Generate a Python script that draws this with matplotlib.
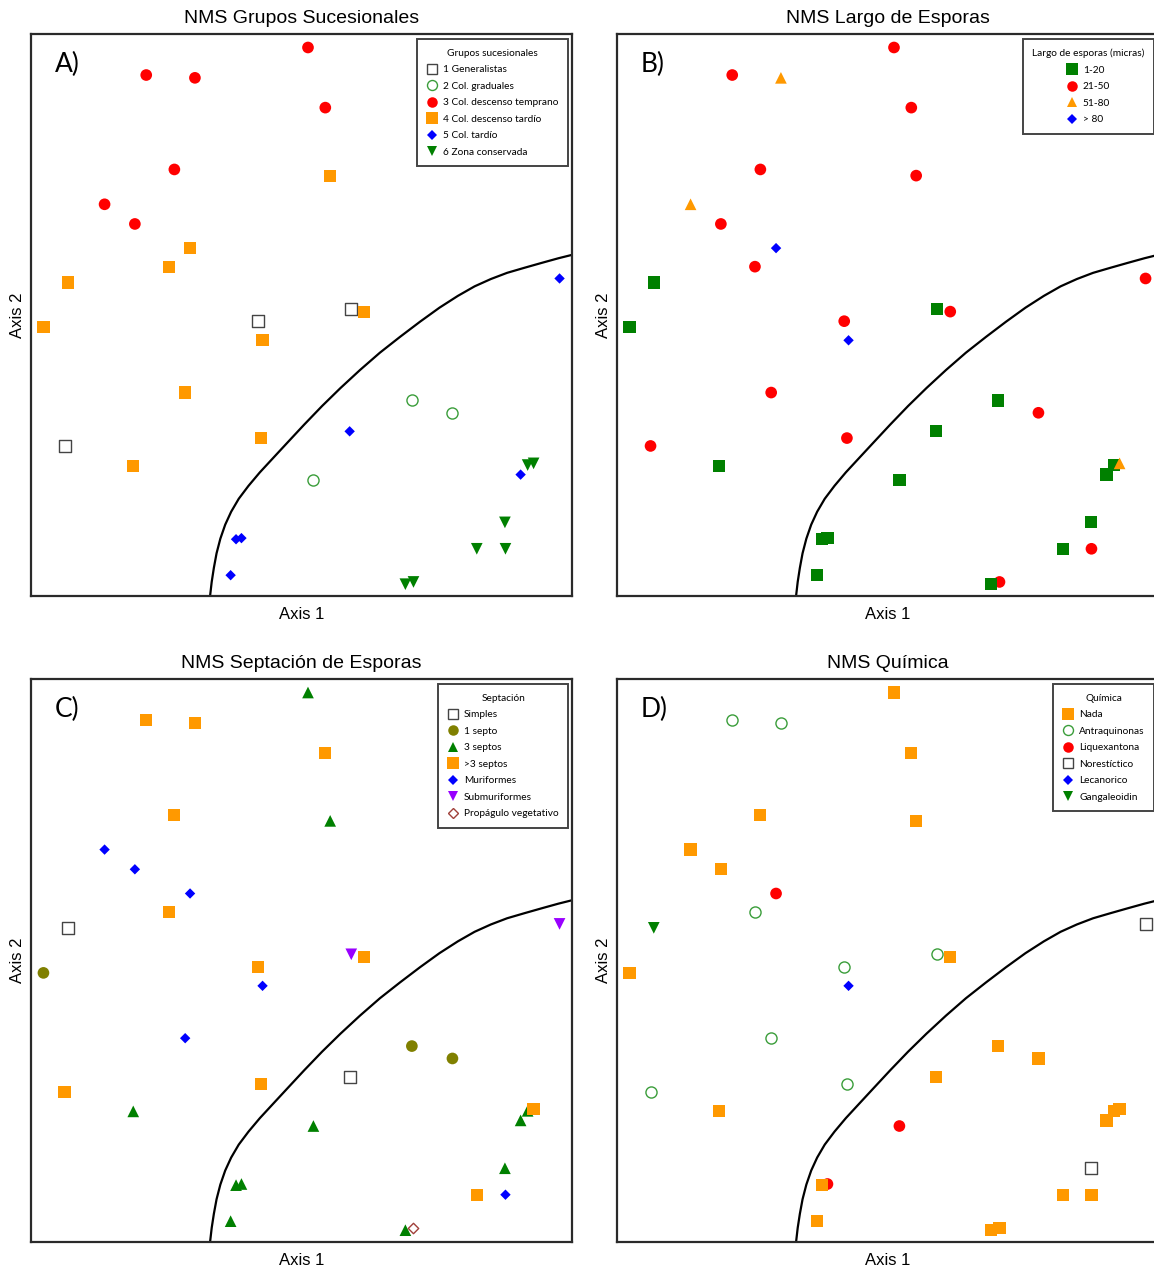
import matplotlib
matplotlib.use("Agg")
import matplotlib.pyplot as plt
from matplotlib.lines import Line2D
import numpy as np

# NMS scores of the 36 samples (same ordination in all four panels)
AXIS1 = [51.2, 21.3, 30.3, 54.4, 26.5, 13.6, 19.2, 55.3, 29.4, 25.5,
         6.8, 2.3, 61.6, 42.8, 28.5, 42.5, 18.9, 42.0, 59.2, 6.2,
         70.4, 77.9, 52.2, 97.7, 58.9, 90.5, 37.9, 38.9, 36.9, 91.8,
         92.9, 87.6, 82.4, 87.7, 69.2, 70.7]
AXIS2 = [97.6, 92.7, 92.2, 86.9, 75.9, 69.7, 66.2, 74.8, 61.9, 58.6,
         55.8, 47.8, 50.6, 45.5, 36.2, 28.1, 23.2, 48.9, 51.1, 26.7,
         34.8, 32.6, 20.6, 56.5, 29.3, 21.6, 10.1, 10.3, 3.7, 23.3,
         23.6, 13.1, 8.4, 8.4, 2.1, 2.5]

# grouping variables for each sample
GRUPOS = [3, 3, 3, 3, 3, 3, 3, 4, 4, 4, 4, 4, 4, 4, 4, 4, 4, 1, 1, 1,
          2, 2, 2, 5, 5, 5, 5, 5, 5, 6, 6, 6, 6, 6, 6, 6]
LARGO = ["21-50", "21-50", "51-80", "21-50", "21-50", "51-80", "21-50",
         "21-50", "> 80", "21-50", "1-20", "1-20", "21-50", "> 80",
         "21-50", "21-50", "1-20", "21-50", "1-20", "21-50", "1-20",
         "21-50", "1-20", "21-50", "1-20", "1-20", "1-20", "1-20", "1-20",
         "1-20", "51-80", "1-20", "1-20", "21-50", "1-20", "21-50"]
SEPTACION = ["3", ">3", ">3", ">3", ">3", "M", "M", "3", "M", ">3",
             "S", "1", ">3", "M", "M", ">3", "3", ">3", "Sub", ">3",
             "1", "1", "3", "Sub", "S", "3", "3", "3", "3", "3",
             ">3", "3", ">3", "M", "3", "P"]
QUIMICA = ["Nada", "Antra", "Antra", "Nada", "Nada", "Nada", "Nada",
           "Nada", "Liq", "Antra", "Gang", "Nada", "Nada", "Lec",
           "Antra", "Antra", "Nada", "Antra", "Antra", "Antra", "Nada",
           "Nada", "Liq", "Nor", "Nada", "Nada", "Nada", "Liq", "Nada",
           "Nada", "Nada", "Nor", "Nada", "Nada", "Nada", "Nada"]

# boundary line between the two clusters
CURVE_X = [33.1, 33.4, 33.8, 34.3, 35.0, 35.9, 37.0, 38.4, 40.2, 42.3,
           44.8, 47.5, 50.5, 53.8, 57.2, 60.8, 64.5, 68.2, 71.9, 75.5,
           78.9, 82.0, 85.0, 88.0, 91.2, 94.5, 97.5, 100.0]
CURVE_Y = [0.0, 2.5, 5.0, 7.6, 10.2, 12.7, 15.0, 17.3, 19.6, 22.0,
           24.6, 27.4, 30.5, 33.8, 37.0, 40.2, 43.3, 46.1, 48.8, 51.3,
           53.4, 55.1, 56.4, 57.5, 58.4, 59.3, 60.1, 60.7]

RED, ORANGE, BLUE, GREEN = "#ff0000", "#ff9900", "#0000ff", "#008000"
OPEN_GREEN, GREY = "#3a9d3a", "#444444"


def sty(marker, face, edge="none", ms=8.4, lw=0.0):
    return dict(marker=marker, face=face, edge=edge, ms=ms, lw=lw)


SQ_OPEN = sty("s", "white", GREY, 8.0, 1.0)
CI_OPEN = sty("o", "white", OPEN_GREEN, 8.0, 1.0)

PANELS = [
    dict(title="NMS Grupos Sucesionales", letter="A)", values=GRUPOS,
         legend_title="Grupos sucesionales",
         styles={1: SQ_OPEN, 2: CI_OPEN, 3: sty("o", RED), 4: sty("s", ORANGE, ms=8.8),
                 5: sty("D", BLUE, ms=5.3), 6: sty("v", GREEN)},
         names={1: "1 Generalistas", 2: "2 Col. graduales", 3: "3 Col. descenso temprano",
                4: "4 Col. descenso tardío", 5: "5 Col. tardío", 6: "6 Zona conservada"},
         order=[1, 2, 3, 4, 5, 6]),
    dict(title="NMS Largo de Esporas", letter="B)", values=LARGO,
         legend_title="Largo de esporas (micras)",
         styles={"1-20": sty("s", GREEN, ms=8.8), "21-50": sty("o", RED),
                 "51-80": sty("^", ORANGE), "> 80": sty("D", BLUE, ms=5.3)},
         names={"1-20": "1-20", "21-50": "21-50", "51-80": "51-80", "> 80": "> 80"},
         order=["21-50", "1-20", "51-80", "> 80"]),
    dict(title="NMS Septación de Esporas", letter="C)", values=SEPTACION,
         legend_title="Septación",
         styles={"S": SQ_OPEN, "1": sty("o", "#808000"), "3": sty("^", GREEN),
                 ">3": sty("s", ORANGE, ms=8.8), "M": sty("D", BLUE, ms=5.3),
                 "Sub": sty("v", "#9900ff"), "P": sty("D", "white", "#a0403a", 5.3, 1.0)},
         names={"S": "Simples", "1": "1 septo", "3": "3 septos", ">3": ">3 septos",
                "M": "Muriformes", "Sub": "Submuriformes", "P": "Propágulo vegetativo"},
         order=["S", "1", "3", ">3", "M", "Sub", "P"]),
    dict(title="NMS Química", letter="D)", values=QUIMICA,
         legend_title="Química",
         styles={"Nada": sty("s", ORANGE, ms=8.8), "Antra": CI_OPEN, "Liq": sty("o", RED),
                 "Nor": SQ_OPEN, "Lec": sty("D", BLUE, ms=5.3), "Gang": sty("v", GREEN)},
         names={"Nada": "Nada", "Antra": "Antraquinonas", "Liq": "Liquexantona",
                "Nor": "Norestíctico", "Lec": "Lecanorico", "Gang": "Gangaleoidin"},
         order=["Liq", "Antra", "Nor", "Lec", "Gang", "Nada"]),
]

W, H = 1154, 1268
fig = plt.figure(figsize=(W / 100, H / 100), dpi=100)

# axes frames in pixels: (left, top, right, bottom)
FRAMES = [(31, 34, 572, 596), (617, 34, 1158, 596),
          (31, 679, 572, 1242), (617, 679, 1158, 1242)]

TITLE_FONT = "Liberation Sans"
LEGEND_FONT = "Lato"

x = np.array(AXIS1)
y = np.array(AXIS2)

for p, (l, t, r, b) in zip(PANELS, FRAMES):
    ax = fig.add_axes([l / W, 1 - b / H, (r - l) / W, (b - t) / H])
    vals = np.array(p["values"], dtype=object)
    for key in p["order"]:
        st = p["styles"][key]
        m = vals == key
        ax.scatter(x[m], y[m], marker=st["marker"], s=st["ms"] ** 2,
                   facecolors=st["face"], edgecolors=st["edge"],
                   linewidths=st["lw"], zorder=3)
    ax.plot(CURVE_X, CURVE_Y, color="black", lw=1.6, zorder=2,
            solid_capstyle="butt", solid_joinstyle="round")
    ax.set_xlim(0, 100)
    ax.set_ylim(0, 100)
    ax.set_xticks([])
    ax.set_yticks([])
    for sp in ax.spines.values():
        sp.set_linewidth(1.6)
        sp.set_color("#2a2a2a")

    ax.set_title(p["title"], fontsize=14, family=TITLE_FONT, pad=8)
    ax.set_xlabel("Axis 1", fontsize=12, family=TITLE_FONT, labelpad=8)
    ax.set_ylabel("Axis 2", fontsize=12, family=TITLE_FONT, labelpad=4)
    ax.text(0.044, 0.945, p["letter"], transform=ax.transAxes, fontsize=19,
            family=LEGEND_FONT, va="center", ha="left")

    handles = []
    for key, st in p["styles"].items():
        handles.append(Line2D([], [], ls="none", marker=st["marker"],
                              markersize=st["ms"] * 0.9, markerfacecolor=st["face"],
                              markeredgecolor=st["edge"],
                              markeredgewidth=st["lw"], label=p["names"][key]))
    leg = ax.legend(handles=handles, title=p["legend_title"], loc="upper right",
                    bbox_to_anchor=(0.993, 0.991), borderaxespad=0,
                    prop=dict(family=LEGEND_FONT, size=7.3),
                    title_fontproperties=dict(family=LEGEND_FONT, size=7.3),
                    frameon=True, fancybox=False, framealpha=1,
                    edgecolor="#444444", handlelength=1.0, handletextpad=0.6,
                    labelspacing=0.73, borderpad=0.95)
    leg.get_frame().set_linewidth(1.4)
    leg.set_zorder(5)

fig.savefig("out.png", dpi=100)
